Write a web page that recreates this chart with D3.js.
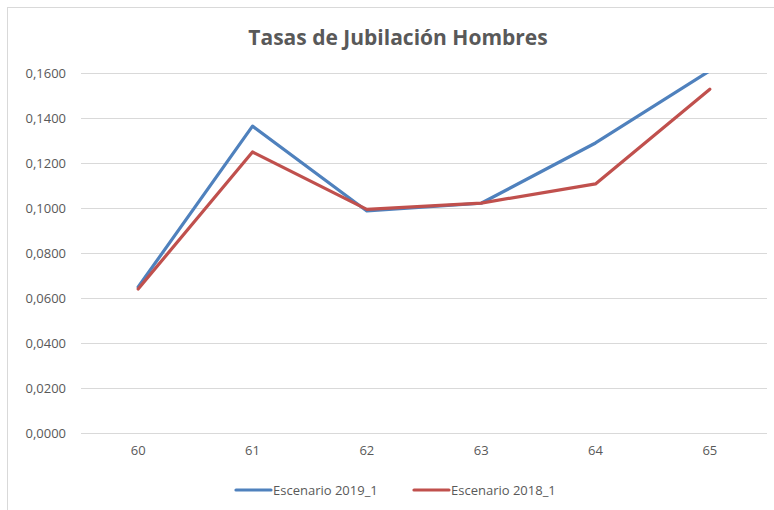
<!DOCTYPE html>
<html>
<head>
<meta charset="utf-8">
<script src="https://cdn.jsdelivr.net/npm/d3@7"></script>
<style>
  body { margin: 0; background: #fff; }
  text { font-family: "Liberation Sans Narrow", "Open Sans", sans-serif; fill: #595959; }
</style>
</head>
<body>
<svg width="774" height="510"></svg>
<script>
var edades = ["60", "61", "62", "63", "64", "65"];
var esc2019 = [0.0649, 0.1364, 0.0987, 0.1021, 0.1289, 0.1610];
var esc2018 = [0.0640, 0.1249, 0.0994, 0.1022, 0.1107, 0.1528];
var yTicks = [0, 0.02, 0.04, 0.06, 0.08, 0.10, 0.12, 0.14, 0.16];

var series = [
  { name: "Escenario 2019_1", values: esc2019, color: "#4f81bd" },
  { name: "Escenario 2018_1", values: esc2018, color: "#c0504d" }
];

var svg = d3.select("svg");

// chart border (right and bottom edges fall outside the picture)
svg.append("rect")
  .attr("x", 7.5).attr("y", 7.5)
  .attr("width", 780).attr("height", 520)
  .attr("fill", "none").attr("stroke", "#d9d9d9");

var x = d3.scaleBand().domain(edades).range([81, 767]);
var y = d3.scaleLinear().domain([0, 0.16]).range([433, 73]);

var fmt = function(d) { return d3.format(".4f")(d).replace(".", ","); };

svg.append("text")
  .attr("x", 398).attr("y", 45)
  .attr("text-anchor", "middle")
  .style("font-size", "21px").style("font-weight", "bold")
  .text("Tasas de Jubilación Hombres");

// gridlines
svg.append("g").selectAll("line")
  .data(yTicks).enter().append("line")
  .attr("x1", 81).attr("x2", 767)
  .attr("y1", function(d) { return Math.round(y(d)) + 0.5; })
  .attr("y2", function(d) { return Math.round(y(d)) + 0.5; })
  .attr("stroke", "#d9d9d9").attr("stroke-width", 1);

// y axis labels
var yAxis = svg.append("g")
  .attr("transform", "translate(81,0)")
  .call(d3.axisLeft(y).tickValues(yTicks).tickFormat(fmt).tickSize(0).tickPadding(15));
yAxis.select(".domain").remove();
yAxis.selectAll("text").style("font-size", "13px").attr("fill", "#595959")
  .style("font-family", "'Liberation Sans Narrow', 'Open Sans', sans-serif");

// x axis labels
var xAxis = svg.append("g")
  .attr("transform", "translate(0,433)")
  .call(d3.axisBottom(x).tickSize(0).tickPadding(13));
xAxis.select(".domain").remove();
xAxis.selectAll("text").style("font-size", "13px").attr("fill", "#595959")
  .style("font-family", "'Liberation Sans Narrow', 'Open Sans', sans-serif");

svg.append("clipPath").attr("id", "plot")
  .append("rect").attr("x", 81).attr("y", 73).attr("width", 686).attr("height", 360);

var line = d3.line()
  .x(function(d, i) { return x(edades[i]) + x.bandwidth() / 2; })
  .y(function(d) { return y(d); });

svg.append("g").attr("clip-path", "url(#plot)")
  .selectAll("path")
  .data(series).enter().append("path")
  .attr("d", function(s) { return line(s.values); })
  .attr("fill", "none")
  .attr("stroke", function(s) { return s.color; })
  .attr("stroke-width", 3.2)
  .attr("stroke-linejoin", "round")
  .attr("stroke-linecap", "round");

// legend
var legX = [236, 414];
var leg = svg.append("g").selectAll("g")
  .data(series).enter().append("g")
  .attr("transform", function(s, i) { return "translate(" + legX[i] + ",490)"; });
leg.append("line")
  .attr("x1", 0).attr("x2", 35)
  .attr("stroke", function(s) { return s.color; })
  .attr("stroke-width", 3.2).attr("stroke-linecap", "round");
leg.append("text")
  .attr("x", 37).attr("y", 5)
  .style("font-size", "13px")
  .text(function(s) { return s.name; });
</script>
</body>
</html>
